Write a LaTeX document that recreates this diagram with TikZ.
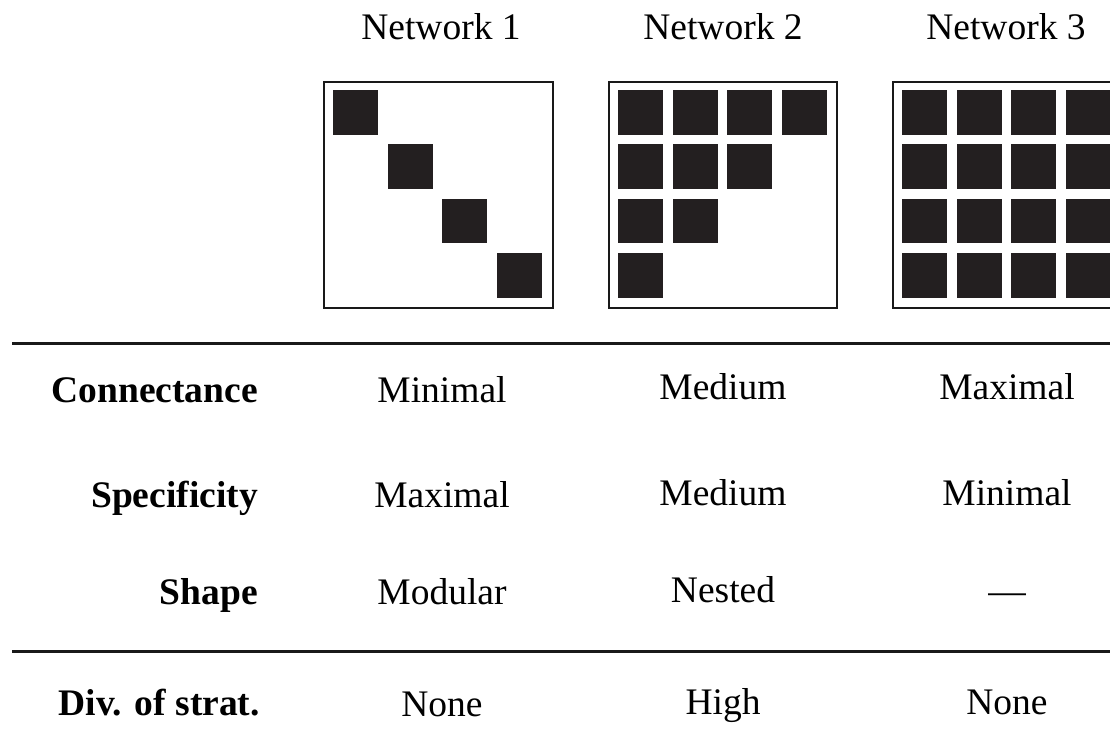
\documentclass[tikz,border=0pt]{standalone}
\usepackage{fontspec}
\setmainfont{Liberation Serif}
\begin{document}
\begin{tikzpicture}[x=1pt,y=-1pt,
  txt/.style={anchor=base,inner sep=0pt,font=\fontsize{37.5}{45}\selectfont},
  lbl/.style={anchor=base east,inner sep=0pt,font=\fontsize{37.5}{45}\selectfont\bfseries},
  frame/.style={draw=black!90,line width=2pt,fill=white},
  cell/.style={fill={rgb,255:red,35;green,31;blue,32}},
  rule/.style={draw=black!90,line width=3pt}]
\useasboundingbox (0,0) rectangle (1110,742);
% headers
\node[txt] (h1) at (441,39) {Network 1};
\node[txt] (h2) at (723,39) {Network 2};
\node[txt] (h3) at (1006,39) {Network 3};
% boxes
\draw[frame] (324,82) rectangle (553,308);
\draw[frame] (609,82) rectangle (837,308);
\draw[frame] (893,82) rectangle (1122,308);
% network 1: diagonal
\foreach \i in {0,...,3}
  \fill[cell] ({333+54.6*\i},{90+54.4*\i}) rectangle ++(45,44.5);
% network 2: nested
\foreach \r/\n in {0/3,1/2,2/1,3/0}
  \foreach \c in {0,...,\n}
    \fill[cell] ({618+54.5*\c},{90+54.4*\r}) rectangle ++(45,44.5);
% network 3: full
\foreach \r in {0,...,3}
  \foreach \c in {0,...,3}
    \fill[cell] ({902+54.5*\c},{90+54.4*\r}) rectangle ++(45,44.5);
% rules
\coordinate (r1a) at (12,343); \coordinate (r1b) at (1110,343);
\coordinate (r2a) at (12,651); \coordinate (r2b) at (1110,651);
\draw[rule] (r1a) -- (r1b);
\draw[rule] (r2a) -- (r2b);
% rows
\node[lbl] (l1) at (258,402) {Connectance};
\node[txt] (c11) at (442,402) {Minimal};
\node[txt] (c12) at (723,399) {Medium};
\node[txt] (c13) at (1007,399) {Maximal};
\node[lbl] (l2) at (258,507) {Specificity};
\node[txt] (c21) at (442,507) {Maximal};
\node[txt] (c22) at (723,505) {Medium};
\node[txt] (c23) at (1007,505) {Minimal};
\node[lbl] (l3) at (258,604) {Shape};
\node[txt] (c31) at (442,604) {Modular};
\node[txt] (c32) at (723,602) {Nested};
\node[txt] (c33) at (1007,603) {—};
\node[lbl] (l4) at (260,715) {Div. of strat.};
\node[txt] (c41) at (442,716) {None};
\node[txt] (c42) at (723,714) {High};
\node[txt] (c43) at (1007,714) {None};
\end{tikzpicture}
\end{document}
